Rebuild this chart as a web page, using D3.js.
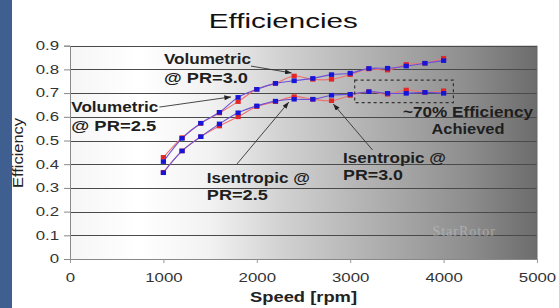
<!DOCTYPE html>
<html><head><meta charset="utf-8">
<script src="https://cdn.jsdelivr.net/npm/d3@7"></script>
<style>html,body{margin:0;padding:0;background:#fff;} svg{display:block;font-family:"Liberation Sans",Arial,sans-serif;}</style>
</head><body><svg id="c" width="559" height="308"></svg>
<script>
// ---- data ----
const speeds = [1000,1200,1400,1600,1800,2000,2200,2400,2600,2800,3000,3200,3400,3600,3800,4000];
const volumetricPR30 = [0.429,0.512,0.572,0.616,0.664,0.716,0.741,0.772,0.758,0.758,0.778,0.802,0.797,0.821,0.826,0.847];
const volumetricPR25 = [0.411,0.509,0.573,0.619,0.682,0.716,0.741,0.752,0.762,0.778,0.784,0.804,0.805,0.814,0.826,0.837];
const isentropicPR30 = [0.366,0.456,0.516,0.561,0.600,0.643,0.664,0.685,0.674,0.668,0.690,0.706,0.695,0.713,0.703,0.710];
const isentropicPR25 = [0.364,0.456,0.516,0.570,0.617,0.646,0.666,0.674,0.674,0.691,0.695,0.706,0.699,0.699,0.703,0.699];
const xTickValues = [0,1000,2000,3000,4000,5000];
const yTickValues = [0,0.1,0.2,0.3,0.4,0.5,0.6,0.7,0.8,0.9];
const yTickLabels = ["0","0.1","0.2","0.3","0.4","0.5","0.6","0.7","0.8","0.9"];
const titleText = "Efficiencies";
const xTitle = "Speed [rpm]";
const yTitle = "Efficiency";

const svg = d3.select("#c");
const x = d3.scaleLinear().domain([0,5000]).range([70,537]);
const y = d3.scaleLinear().domain([0,0.9]).range([259,45.7]);
const K = 1.4; // horizontal stretch of original picture

function stretch(sel,k){ sel.each(function(){ const w=this.getComputedTextLength(); d3.select(this).attr("textLength",w*k).attr("lengthAdjust","spacingAndGlyphs"); }); }
function fit(sel,w){ sel.attr("textLength",w).attr("lengthAdjust","spacingAndGlyphs"); }

// left blue strip
svg.append("rect").attr("x",0).attr("y",0).attr("width",12).attr("height",308).attr("fill","#3e5f90");

const defs = svg.append("defs");
const g = defs.append("linearGradient").attr("id","bg").attr("x1","0").attr("x2","1").attr("y1","0").attr("y2","0");
[[0,"#f6f6f6"],[0.15,"#ffffff"],[0.3,"#f2f2f2"],[0.45,"#d2d2d2"],[0.65,"#b0b0b0"],[0.85,"#8e8e8e"],[1,"#6c6c6c"]]
  .forEach(s=>g.append("stop").attr("offset",s[0]).attr("stop-color",s[1]));
defs.append("marker").attr("id","arr").attr("viewBox","0 0 8 6").attr("refX",8).attr("refY",3)
  .attr("markerWidth",7).attr("markerHeight",5).attr("markerUnits","userSpaceOnUse").attr("orient","auto")
  .append("path").attr("d","M0,0L8,3L0,6z").attr("fill","#222");

// plot background
svg.append("rect").attr("x",x(0)).attr("y",y(0.9)).attr("width",x(5000)-x(0)).attr("height",y(0)-y(0.9)).attr("fill","url(#bg)");

// gridlines
svg.append("g").selectAll("line").data(yTickValues.filter(d=>d>0)).join("line")
  .attr("x1",x(0)).attr("x2",x(5000)).attr("y1",d=>Math.round(y(d))+0.5).attr("y2",d=>Math.round(y(d))+0.5)
  .attr("stroke","#4a4a4a").attr("stroke-width",1.1);
// right edge
svg.append("line").attr("x1",x(5000)).attr("x2",x(5000)).attr("y1",y(0.9)).attr("y2",y(0)).attr("stroke","#666");

// watermark
svg.append("text").attr("x",x(4220)).attr("y",y(0.095)).attr("text-anchor","middle")
  .attr("font-family","Liberation Serif, serif").attr("font-size",14).attr("fill","#c4c4c4").attr("opacity",0.55)
  .attr("letter-spacing",1).text("StarRotor");

// axes
const yAxis = svg.append("g").attr("transform",`translate(${x(0)},0)`)
  .call(d3.axisLeft(y).tickValues(yTickValues).tickFormat((d,i)=>yTickLabels[i]).tickSize(6).tickPadding(5));
yAxis.select(".domain").attr("stroke","#888");
yAxis.selectAll(".tick line").attr("stroke","#888");
yAxis.selectAll("text").attr("font-size",12).attr("fill","#333").attr("font-family","Liberation Sans, Arial, sans-serif").call(stretch,K);

const xAxis = svg.append("g").attr("transform",`translate(0,${y(0)})`)
  .call(d3.axisBottom(x).tickValues(xTickValues).tickFormat(d3.format("d")).tickSize(4).tickPadding(10));
xAxis.select(".domain").attr("stroke","#888");
xAxis.selectAll(".tick line").attr("stroke","#999");
xAxis.selectAll("text").attr("font-size",12).attr("fill","#333").attr("font-family","Liberation Sans, Arial, sans-serif").call(stretch,K);

// titles
svg.append("text").attr("x",283.3).attr("y",28.3).attr("text-anchor","middle").attr("font-size",21).attr("fill","#111").text(titleText).call(fit,149);
svg.append("text").attr("x",x(2500)).attr("y",302).attr("text-anchor","middle").attr("font-size",15).attr("font-weight","bold").attr("fill","#222").text(xTitle).call(fit,107);
svg.append("text").attr("transform",`translate(22.5,${153}) rotate(-90)`).attr("text-anchor","middle").attr("font-size",14).attr("fill","#222").text(yTitle).call(fit,70);

// series
const series = [
  {v:isentropicPR30, line:"#f07070", mark:"#e02828"},
  {v:volumetricPR30, line:"#f07070", mark:"#e02828"},
  {v:isentropicPR25, line:"#6a50d8", mark:"#1616d8"},
  {v:volumetricPR25, line:"#6a50d8", mark:"#1616d8"}
];
const line = d3.line().x((d,i)=>x(speeds[i])).y(d=>y(d)).curve(d3.curveCatmullRom);
series.forEach(s=>svg.append("path").attr("d",line(s.v)).attr("fill","none").attr("stroke",s.line).attr("stroke-width",1.1));
series.forEach(s=>svg.append("g").selectAll("rect").data(s.v).join("rect")
  .attr("x",(d,i)=>x(speeds[i])-2.6).attr("y",d=>y(d)-2.3).attr("width",5.2).attr("height",4.6).attr("fill",s.mark));

// annotations
const ann = svg.append("g").attr("font-size",14).attr("font-weight","bold").attr("fill","#1e1e1e");
function label(t,rx,v,w,anchor){ ann.append("text").attr("x",x(rx)).attr("y",y(v)).attr("text-anchor",anchor||"start").text(t).call(fit,w); }
label("Volumetric",1006,0.823,87); label("@ PR=3.0",1006,0.743,84);
label("Volumetric",14,0.620,87); label("@ PR=2.5",14,0.540,85);
label("Isentropic @",1465,0.321,103); label("PR=2.5",1465,0.249,61);
label("Isentropic @",2923,0.405,103); label("PR=3.0",2923,0.333,60);
label("~70% Efficiency",4957,0.599,130,"end"); label("Achieved",4261,0.527,73,"middle");

const arrows = [[1938,0.814,2373,0.785],[957,0.641,1724,0.684],[1788,0.401,2343,0.662],[3239,0.460,2819,0.654]];
svg.append("g").selectAll("line").data(arrows).join("line")
  .attr("x1",d=>x(d[0])).attr("y1",d=>y(d[1])).attr("x2",d=>x(d[2])).attr("y2",d=>y(d[3]))
  .attr("stroke","#333").attr("stroke-width",0.9).attr("marker-end","url(#arr)");

// dashed box
svg.append("rect").attr("x",x(3048)).attr("y",y(0.755)).attr("width",x(4105)-x(3048)).attr("height",y(0.66)-y(0.755))
  .attr("fill","none").attr("stroke","#333").attr("stroke-width",1.2).attr("stroke-dasharray","3,3");
</script></body></html>
